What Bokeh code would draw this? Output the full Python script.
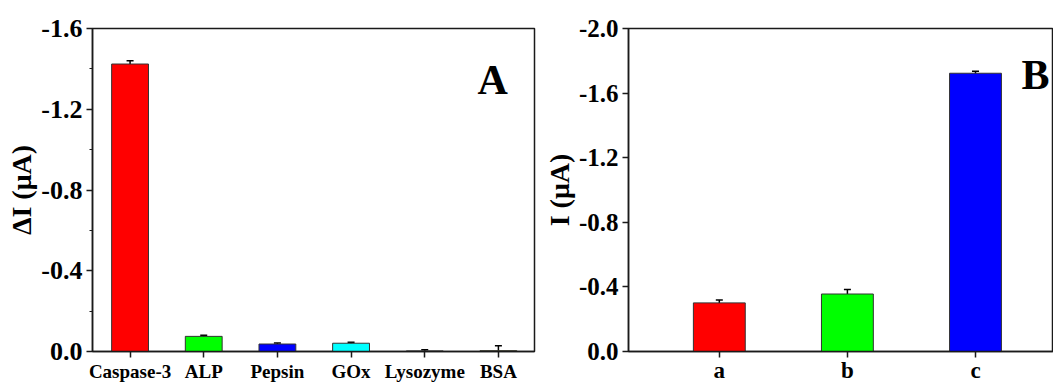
from bokeh.plotting import figure
from bokeh.layouts import row
from bokeh.models import (ColumnDataSource, Range1d, FixedTicker, PrintfTickFormatter,
                          Whisker, TeeHead, Label)
from bokeh.embed import file_html
from bokeh.resources import INLINE

# ---------------- data ----------------
A_categories = ["Caspase-3", "ALP", "Pepsin", "GOx", "Lysozyme", "BSA"]
A_values = [-1.424, -0.075, -0.037, -0.041, -0.003, -0.004]
A_errors = [0.016, 0.006, 0.005, 0.005, 0.006, 0.024]
A_colors = ["#FF0000", "#00FF00", "#0000FF", "#00FFFF", "#FF00FF", "#FFFF00"]
A_yticks = [-1.6, -1.2, -0.8, -0.4, 0.0]
A_yminor = [-1.4, -1.0, -0.6, -0.2]

B_categories = ["a", "b", "c"]
B_values = [-0.301, -0.356, -1.723]
B_errors = [0.018, 0.028, 0.013]
B_colors = ["#FF0000", "#00FF00", "#0000FF"]
B_yticks = [-2.0, -1.6, -1.2, -0.8, -0.4, 0.0]

FONT = "Liberation Serif"
AXIS_COLOR = "#1a1a1a"


def style_axes(p, yticks, yminor, tick_size, ytitle):
    p.xgrid.visible = False
    p.ygrid.visible = False
    p.outline_line_color = AXIS_COLOR
    p.outline_line_width = 1.5
    for ax in (p.xaxis[0], p.yaxis[0]):
        ax.axis_line_color = AXIS_COLOR
        ax.axis_line_width = 1.5
        ax.major_tick_line_color = AXIS_COLOR
        ax.major_tick_line_width = 1.5
        ax.minor_tick_line_color = AXIS_COLOR
        ax.minor_tick_line_width = 1.2
        ax.major_tick_in = 0
        ax.major_tick_out = 6
        ax.minor_tick_in = 0
        ax.minor_tick_out = 3
        ax.major_label_text_font = FONT
        ax.major_label_text_font_style = "bold"
        ax.major_label_text_color = "black"
    ya = p.yaxis[0]
    ya.ticker = FixedTicker(ticks=yticks, minor_ticks=yminor)
    ya.formatter = PrintfTickFormatter(format="%.1f")
    ya.major_label_text_font_size = tick_size
    ya.major_label_standoff = 4
    ya.axis_label = ytitle
    ya.axis_label_text_font = FONT
    ya.axis_label_text_font_style = "bold"
    ya.axis_label_text_font_size = "28px"
    ya.axis_label_text_color = "black"
    ya.axis_label_standoff = 1


# ---------------- panel A ----------------
xa = list(range(len(A_categories)))
srcA = ColumnDataSource(dict(
    x=xa, top=A_values, color=A_colors,
    upper=[v - e for v, e in zip(A_values, A_errors)],
    lower=[v + e for v, e in zip(A_values, A_errors)],
))
pA = figure(width=540, height=385, output_backend="svg", toolbar_location=None,
            x_range=Range1d(-0.51, 5.49), y_range=Range1d(0, -1.6),
            min_border_left=92, min_border_right=6, min_border_top=28,
            min_border_bottom=32)
pA.vbar(x="x", top="top", bottom=0, width=0.5, fill_color="color",
        line_color="#333333", line_width=1, source=srcA)
pA.add_layout(Whisker(source=srcA, base="x", upper="upper", lower="lower",
                      line_color="black", line_width=1.5,
                      upper_head=TeeHead(size=7, line_width=1.5, line_color="black"),
                      lower_head=TeeHead(size=7, line_width=1.5, line_color="black")))
style_axes(pA, A_yticks, A_yminor, "26px", "ΔI (μA)")
pA.xaxis[0].ticker = FixedTicker(ticks=xa, minor_ticks=[])
pA.xaxis[0].major_label_overrides = {i: c for i, c in enumerate(A_categories)}
pA.xaxis[0].major_label_text_font_size = "19px"
pA.xaxis[0].major_label_standoff = 3
pA.add_layout(Label(x=385, y=272, x_units="screen", y_units="screen", text="A",
                    text_font=FONT, text_font_size="42px", text_font_style="bold",
                    text_color="black", text_baseline="alphabetic"))

# ---------------- panel B ----------------
xb = list(range(len(B_categories)))
srcB = ColumnDataSource(dict(
    x=xb, top=B_values, color=B_colors,
    upper=[v - e for v, e in zip(B_values, B_errors)],
    lower=[v + e for v, e in zip(B_values, B_errors)],
))
pB = figure(width=513, height=385, output_backend="svg", toolbar_location=None,
            x_range=Range1d(-0.709, 2.609), y_range=Range1d(0, -2.0),
            min_border_left=84, min_border_right=0, min_border_top=28,
            min_border_bottom=28)
pB.vbar(x="x", top="top", bottom=0, width=0.405, fill_color="color",
        line_color="#333333", line_width=1, source=srcB)
pB.add_layout(Whisker(source=srcB, base="x", upper="upper", lower="lower",
                      line_color="black", line_width=1.5,
                      upper_head=TeeHead(size=7, line_width=1.5, line_color="black"),
                      lower_head=TeeHead(size=7, line_width=1.5, line_color="black")))
style_axes(pB, B_yticks, [], "25px", "I (μA)")
pB.xaxis[0].ticker = FixedTicker(ticks=xb, minor_ticks=[])
pB.xaxis[0].major_label_overrides = {i: c for i, c in enumerate(B_categories)}
pB.xaxis[0].major_label_text_font_size = "23px"
pB.xaxis[0].major_label_standoff = 0
pB.add_layout(Label(x=393, y=277, x_units="screen", y_units="screen", text="B",
                    text_font=FONT, text_font_size="42px", text_font_style="bold",
                    text_color="black", text_baseline="alphabetic"))

layout = row(pA, pB, spacing=0)
open("out.html", "w").write(file_html(layout, INLINE))
